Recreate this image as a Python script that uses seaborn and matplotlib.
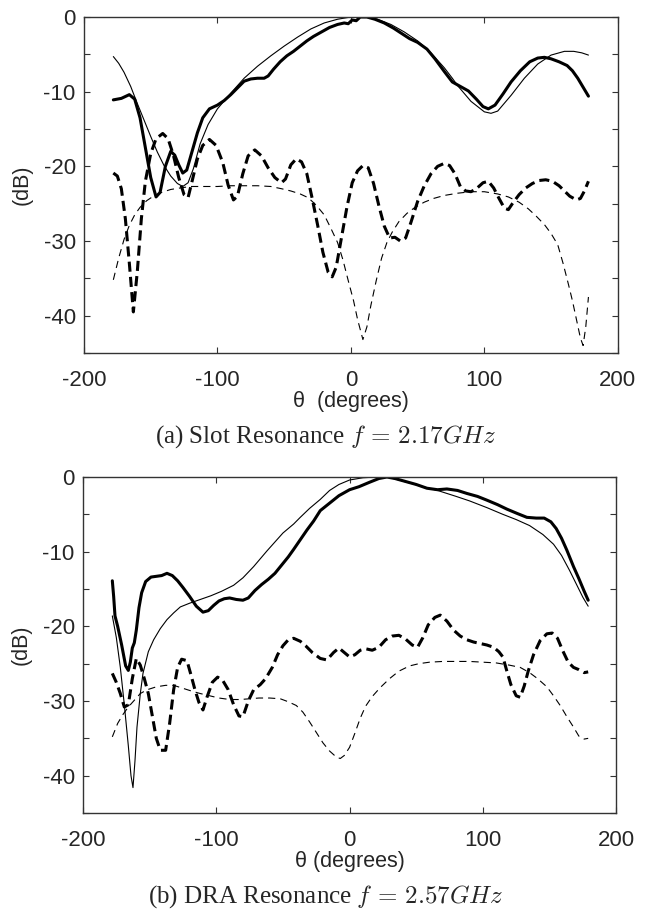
import numpy as np
import matplotlib
matplotlib.use("Agg")
import matplotlib.pyplot as plt
from matplotlib.ticker import MultipleLocator
import seaborn as sns

# ---- (a) slot resonance, f = 2.17 GHz ----
a_sim_co_t = [-178, -174, -170, -165, -160, -155, -150, -145, -140, -135, -130, -126, -122, -118, -113, -107, -100, -90, -80, -70, -60, -50, -40, -30, -20, -10, 0, 10, 20, 30, 40, 50, 60, 70, 76, 80, 90, 100, 105, 110, 120, 130, 140, 150, 160, 167, 173, 178]
a_sim_co = [-5.3, -6.2, -7.4, -9.3, -11.6, -13.8, -16.0, -18.1, -19.9, -21.3, -22.3, -22.7, -22.2, -20.3, -17.0, -14.4, -12.3, -10.2, -8.2, -6.6, -5.2, -3.9, -2.7, -1.6, -0.8, -0.3, 0.0, 0.0, -0.3, -1.0, -2.0, -3.2, -4.8, -6.8, -8.2, -9.2, -11.3, -12.7, -12.9, -12.6, -10.5, -8.2, -6.3, -5.1, -4.6, -4.6, -4.8, -5.1]

a_meas_co_t = [-178, -172, -166, -162, -158, -154, -150, -146, -143, -139, -135, -132, -129, -126, -123, -119, -115, -111, -106, -100, -95, -90, -85, -80, -75, -70, -65, -62, -58, -53, -48, -43, -38, -33, -28, -23, -16, -10, -5, -2, 1, 4, 7, 12, 18, 25, 32, 38, 44, 50, 57, 63, 70, 76, 82, 88, 94, 99, 103, 108, 114, 120, 127, 134, 140, 145, 150, 156, 162, 166, 170, 174, 178]
a_meas_co = [-11.1, -10.9, -10.4, -11.0, -13.5, -17.5, -21.5, -24.1, -23.5, -20.0, -18.0, -18.5, -19.8, -20.9, -20.5, -18.0, -15.5, -13.5, -12.3, -11.8, -11.2, -10.4, -9.5, -8.6, -8.3, -8.2, -8.2, -7.9, -7.0, -6.0, -5.2, -4.6, -3.9, -3.2, -2.6, -2.1, -1.4, -1.0, -0.8, -0.9, -0.4, -0.5, 0.0, 0.0, -0.3, -0.8, -1.5, -2.2, -2.9, -3.4, -4.3, -5.6, -7.3, -8.7, -9.3, -9.9, -11.0, -12.0, -12.3, -11.8, -10.3, -8.7, -7.2, -6.0, -5.5, -5.4, -5.6, -6.0, -6.5, -7.2, -8.2, -9.4, -10.6]

a_meas_x_t = [-178, -175, -172, -169, -166, -163, -160, -157, -154, -150, -146, -141, -137, -133, -129, -125, -122, -119, -115, -111, -106, -101, -96, -92, -88, -85, -81, -77, -72, -67, -62, -57, -52, -49, -45, -41, -37, -33, -29, -25, -21, -17, -14, -11, -7, -3, 1, 5, 9, 13, 17, 21, 25, 29, 33, 37, 41, 45, 50, 55, 60, 65, 70, 74, 78, 82, 86, 90, 94, 99, 103, 107, 111, 115, 118, 121, 126, 131, 136, 141, 146, 151, 156, 160, 164, 169, 172, 175, 178]
a_meas_x = [-20.9, -21.3, -23.0, -27.0, -33.0, -39.5, -34.0, -27.0, -22.0, -18.3, -16.3, -15.6, -16.3, -18.5, -21.5, -23.8, -24.2, -22.0, -19.0, -17.2, -16.4, -17.2, -19.5, -22.5, -24.5, -24.0, -21.0, -18.6, -17.8, -18.6, -20.2, -21.5, -22.2, -21.7, -19.8, -19.0, -19.4, -21.0, -24.3, -27.8, -31.5, -34.2, -34.8, -33.5, -29.5, -25.5, -22.2, -20.6, -19.9, -20.2, -22.3, -25.3, -28.0, -29.6, -29.5, -30.0, -29.6, -27.5, -24.7, -22.6, -21.0, -20.0, -19.6, -19.9, -21.0, -22.7, -23.3, -23.4, -23.0, -22.2, -22.0, -22.9, -24.3, -25.6, -25.8, -25.0, -23.8, -22.9, -22.3, -21.9, -21.8, -22.0, -22.6, -23.3, -24.0, -24.5, -24.3, -23.3, -22.0]

a_sim_x_t = [-178, -174, -170, -166, -162, -158, -153, -148, -142, -135, -128, -120, -110, -100, -90, -80, -70, -60, -52, -45, -38, -32, -26, -20, -15, -10, -6, -2, 2, 5, 9, 12, 15, 19, 23, 27, 31, 36, 42, 48, 55, 62, 70, 80, 90, 100, 110, 118, 126, 133, 139, 145, 150, 155, 159, 163, 166, 169, 172, 174, 176, 178]
a_sim_x = [-35.2, -32.3, -29.8, -27.9, -26.5, -25.5, -24.6, -24.0, -23.5, -23.1, -22.9, -22.7, -22.7, -22.7, -22.6, -22.6, -22.6, -22.7, -23.0, -23.3, -23.7, -24.2, -25.2, -26.5, -28.3, -30.2, -32.5, -35.3, -38.0, -40.5, -43.2, -41.5, -38.6, -35.3, -32.3, -30.2, -28.8, -27.4, -26.3, -25.5, -24.8, -24.3, -23.9, -23.6, -23.4, -23.4, -23.7, -24.1, -24.8, -25.7, -26.7, -27.8, -29.0, -30.5, -33.0, -35.8, -38.0, -40.5, -43.0, -44.0, -41.5, -37.5]

# ---- (b) DRA resonance, f = 2.57 GHz ----
b_sim_co_t = [-178, -175, -172, -169, -166, -164, -162.5, -161, -159.5, -157, -155, -151, -147, -142, -137, -132, -127, -120, -112, -104, -96, -87, -80, -72, -62, -50, -42, -37, -30, -22, -15, -8, 0, 10, 20, 28, 35, 45, 55, 66, 80, 90, 103, 115, 125, 135, 145, 153, 159, 165, 170, 175, 179]
b_sim_co = [-18.6, -21.5, -25.5, -30.5, -36.0, -40.0, -41.6, -38.0, -33.5, -29.0, -26.3, -23.4, -21.8, -20.3, -19.1, -18.2, -17.4, -16.9, -16.4, -15.9, -15.3, -14.5, -13.5, -12.0, -9.9, -7.5, -6.3, -5.4, -4.2, -3.0, -1.8, -1.0, -0.4, -0.1, 0.0, 0.0, -0.3, -0.8, -1.3, -1.8, -2.6, -3.2, -4.1, -5.0, -5.7, -6.5, -7.7, -9.0, -10.5, -12.5, -14.3, -16.1, -17.3]

b_meas_co_t = [-178, -177, -176, -174, -171, -168, -166, -164.5, -163, -161.5, -160, -158, -156, -153, -149, -145, -141, -137, -133, -129, -125, -120, -115, -110, -106, -102, -98, -94, -90, -85, -80, -76, -71, -66, -61, -56, -51, -46, -42, -37, -32, -27, -22, -15, -8, 0, 7, 15, 22, 28, 34, 42, 50, 58, 66, 73, 81, 88, 96, 103, 111, 118, 126, 133, 140, 146, 151, 155, 159, 163, 168, 172, 176, 179]
b_meas_co = [-13.9, -16.0, -18.6, -20.0, -22.5, -25.3, -25.9, -24.8, -22.9, -22.2, -20.5, -17.5, -15.5, -14.0, -13.4, -13.3, -13.2, -12.9, -13.2, -13.9, -14.8, -16.0, -17.3, -18.1, -17.9, -17.2, -16.6, -16.3, -16.2, -16.4, -16.5, -16.2, -15.2, -14.4, -13.7, -12.9, -11.8, -10.7, -9.7, -8.4, -7.1, -5.9, -4.5, -3.5, -2.5, -1.7, -1.3, -0.7, -0.2, 0.0, -0.2, -0.6, -1.0, -1.5, -1.7, -1.6, -1.8, -2.2, -2.6, -3.1, -3.7, -4.3, -4.9, -5.4, -5.5, -5.5, -6.0, -6.9, -8.2, -9.8, -12.0, -13.6, -15.3, -16.5]

b_meas_x_t = [-178, -175, -172, -169, -166, -163, -160, -157, -154, -151, -148, -145, -142, -138, -135, -132, -129, -126, -122, -119, -116, -113, -110, -107, -103, -99, -95, -91, -87, -83, -80, -76, -72, -67, -63, -58, -54, -50, -46, -42, -37, -33, -28, -22, -17, -12, -8, -4, 0, 4, 8, 12, 17, 22, 27, 32, 37, 42, 47, 51, 55, 59, 64, 68, 73, 78, 83, 88, 93, 98, 103, 108, 112, 115, 118, 121, 125, 128, 131, 134, 138, 143, 148, 152, 156, 160, 164, 168, 172, 176, 179]
b_meas_x = [-26.3, -27.5, -29.0, -30.8, -30.5, -27.0, -24.3, -25.2, -27.0, -29.0, -32.0, -35.0, -36.6, -36.6, -33.0, -28.5, -25.5, -24.4, -24.6, -26.5, -28.5, -30.2, -31.2, -29.5, -27.5, -26.8, -27.3, -28.5, -30.5, -32.0, -32.1, -30.0, -28.5, -27.8, -27.0, -25.5, -23.8, -22.6, -21.8, -21.6, -22.0, -22.6, -23.5, -24.3, -24.5, -23.5, -22.9, -23.5, -24.1, -23.8, -23.2, -23.0, -23.2, -22.8, -21.8, -21.3, -21.2, -21.7, -22.5, -22.8, -21.5, -19.8, -18.8, -18.5, -19.3, -20.5, -21.3, -21.8, -22.1, -22.3, -22.5, -22.8, -23.4, -24.1, -26.0, -27.8, -29.3, -29.5, -28.0, -26.0, -23.8, -21.9, -21.0, -20.9, -21.6, -23.3, -24.8, -25.5, -25.8, -26.2, -26.1]

b_sim_x_t = [-178, -174, -170, -166, -162, -157, -152, -145, -138, -132, -125, -118, -112, -105, -98, -90, -82, -75, -68, -60, -52, -46, -40, -35, -30, -25, -20, -15, -10, -7, -4, 0, 4, 8, 12, 17, 23, 30, 37, 45, 52, 60, 70, 80, 90, 100, 110, 120, 128, 135, 141, 148, 153, 158, 163, 168, 172, 176, 179]
b_sim_x = [-34.8, -33.0, -31.8, -30.8, -30.0, -29.0, -28.5, -28.1, -27.9, -27.9, -28.3, -28.7, -29.0, -29.3, -29.6, -29.8, -29.8, -29.7, -29.6, -29.6, -29.7, -30.1, -30.6, -31.5, -32.8, -34.2, -35.6, -36.7, -37.5, -37.7, -37.3, -36.2, -34.3, -32.3, -30.7, -29.4, -28.2, -27.0, -26.0, -25.3, -25.0, -24.8, -24.7, -24.7, -24.7, -24.8, -24.9, -25.2, -25.5, -26.2, -27.0, -28.1, -29.3, -30.6, -32.1, -33.5, -34.7, -35.1, -35.0]

x_ticks = [-200, -100, 0, 100, 200]
y_ticks = [0, -10, -20, -30, -40]

sns.set_style("ticks")
plt.rcParams["font.family"] = ["Liberation Sans", "DejaVu Sans"]
plt.rcParams["axes.unicode_minus"] = False
plt.rcParams["mathtext.fontset"] = "cm"

fig = plt.figure(figsize=(6.51, 9.14), dpi=100)
ax_a = fig.add_axes([0.129, 0.6138, 0.820, 0.3676])
ax_b = fig.add_axes([0.1275, 0.1105, 0.819, 0.3676])

thick_dash = (0, (3.3, 1.7))
thin_dash = (0, (6.5, 4.5))


def draw(ax, sim_co_t, sim_co, meas_co_t, meas_co, meas_x_t, meas_x, sim_x_t, sim_x, xlab):
    sns.lineplot(x=sim_x_t, y=sim_x, ax=ax, color="black", lw=0.8, linestyle=thin_dash, estimator=None)
    sns.lineplot(x=meas_x_t, y=meas_x, ax=ax, color="black", lw=2.2, linestyle=thick_dash, estimator=None)
    sns.lineplot(x=sim_co_t, y=sim_co, ax=ax, color="black", lw=0.8, estimator=None)
    sns.lineplot(x=meas_co_t, y=meas_co, ax=ax, color="black", lw=2.2, estimator=None)
    ax.set_xlim(-200, 200)
    ax.set_ylim(-45, 0)
    ax.set_xticks(x_ticks)
    ax.set_yticks(y_ticks)
    ax.yaxis.set_minor_locator(MultipleLocator(5))
    ax.tick_params(which="both", direction="in", top=True, right=True, length=4, width=0.8, color="#333333")
    ax.tick_params(axis="x", labelsize=16, pad=12)
    ax.tick_params(axis="y", labelsize=16, pad=6)
    for s in ax.spines.values():
        s.set_linewidth(1.0)
        s.set_color("#333333")
    ax.set_xlabel(xlab, fontsize=15.5, labelpad=0)
    ax.set_ylabel("(dB)", fontsize=15.5, labelpad=8)


draw(ax_a, a_sim_co_t, a_sim_co, a_meas_co_t, a_meas_co, a_meas_x_t, a_meas_x, a_sim_x_t, a_sim_x, "θ  (degrees)")
draw(ax_b, b_sim_co_t, b_sim_co, b_meas_co_t, b_meas_co, b_meas_x_t, b_meas_x, b_sim_x_t, b_sim_x, "θ (degrees)")

fig.text(0.5, 0.522, r"(a) Slot Resonance $f\,=\,2.17GHz$", ha="center", va="center",
         fontsize=18, family="Liberation Serif")
fig.text(0.5, 0.019, r"(b) DRA Resonance $f\,=\,2.57GHz$", ha="center", va="center",
         fontsize=18, family="Liberation Serif")

fig.savefig("out.png", dpi=100)
